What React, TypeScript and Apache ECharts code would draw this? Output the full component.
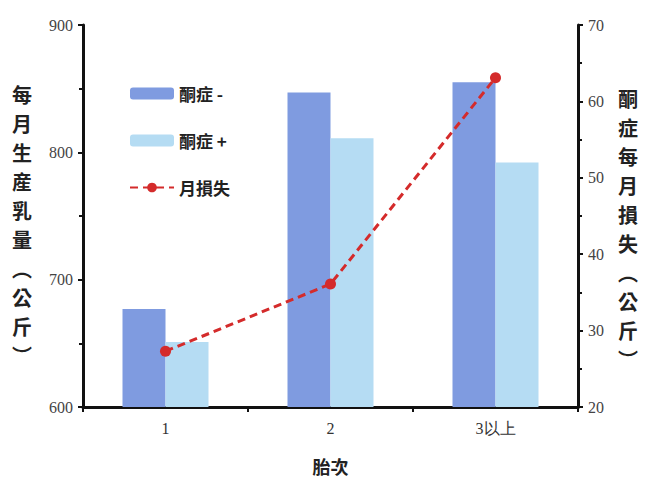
import React, { useEffect, useRef } from "react";
import * as echarts from "echarts";

const categories = ["1", "2", "3以上"];
const ketosisNeg = [677, 847, 855];
const ketosisPos = [651, 811, 792];
const monthlyLoss = [27.3, 36.1, 63.1];
const leftTitle = ["每", "月", "生", "産", "乳", "量", "︵", "公", "斤", "︶"];
const rightTitle = ["酮", "症", "每", "月", "損", "失", "︵", "公", "斤", "︶"];

const CJK = '"Noto Sans CJK TC", "Noto Sans CJK JP", sans-serif';
const SERIF = '"Liberation Serif", "DejaVu Serif", serif';

export default function App() {
  const ref = useRef<HTMLDivElement>(null);
  useEffect(() => {
    if (!ref.current) return;
    const chart = echarts.init(ref.current, null, { renderer: "svg" });
    const axisLine = { show: true, lineStyle: { color: "#111", width: 3 } };
    chart.setOption({
      animation: false,
      backgroundColor: "#fff",
      grid: { left: 83, right: 72, top: 25, bottom: 71 },
      legend: {
        orient: "vertical",
        left: 124,
        top: 80,
        itemWidth: 44,
        itemHeight: 12,
        itemGap: 30,
        textStyle: { fontFamily: CJK, fontSize: 17, fontWeight: "bold", color: "#222" },
        data: [
          { name: "酮症 -" },
          { name: "酮症 +" },
          { name: "月損失" },
        ],
      },
      xAxis: {
        type: "category",
        data: categories,
        axisLine,
        axisTick: { show: true, length: 5, lineStyle: { color: "#111", width: 2 } },
        axisLabel: { fontFamily: SERIF, fontSize: 16, color: "#333", margin: 13 },
        name: "胎次",
        nameLocation: "middle",
        nameGap: 50,
        nameTextStyle: { fontFamily: CJK, fontSize: 18, fontWeight: "bold", color: "#222" },
      },
      yAxis: [
        {
          type: "value",
          min: 600,
          max: 900,
          interval: 100,
          axisLine,
          axisTick: { show: true, length: 5, lineStyle: { color: "#111", width: 2 } },
          minorTick: { show: true, splitNumber: 2, length: 4, lineStyle: { color: "#111", width: 2 } },
          splitLine: { show: false },
          axisLabel: { fontFamily: SERIF, fontSize: 16, color: "#444", margin: 10 },
        },
        {
          type: "value",
          min: 20,
          max: 70,
          interval: 10,
          axisLine,
          axisTick: { show: true, length: 5, lineStyle: { color: "#111", width: 2 } },
          minorTick: { show: true, splitNumber: 2, length: 4, lineStyle: { color: "#111", width: 2 } },
          splitLine: { show: false },
          axisLabel: { fontFamily: SERIF, fontSize: 16, color: "#444", margin: 10 },
        },
      ],
      series: [
        {
          name: "酮症 -",
          type: "bar",
          data: ketosisNeg,
          barWidth: 43,
          barGap: "0%",
          itemStyle: { color: "#7f9be0" },
        },
        {
          name: "酮症 +",
          type: "bar",
          data: ketosisPos,
          barWidth: 43,
          itemStyle: { color: "#b5dcf3" },
        },
        {
          name: "月損失",
          type: "line",
          yAxisIndex: 1,
          data: monthlyLoss,
          symbol: "circle",
          symbolSize: 11,
          itemStyle: { color: "#d42b2b" },
          lineStyle: { color: "#d42b2b", width: 3, type: [8, 5] },
        },
      ],
      graphic: [
        {
          type: "text",
          left: 12,
          top: 80,
          style: {
            text: leftTitle.join("\n"),
            font: `bold 20px ${CJK}`,
            lineHeight: 29,
            fill: "#222",
            align: "center",
          },
        },
        {
          type: "text",
          left: 618,
          top: 84,
          style: {
            text: rightTitle.join("\n"),
            font: `bold 20px ${CJK}`,
            lineHeight: 29,
            fill: "#222",
            align: "center",
          },
        },
      ],
    });
    return () => chart.dispose();
  }, []);
  return (
    <div
      ref={ref}
      style={{ position: "fixed", left: 0, top: 0, width: 650, height: 480 }}
    />
  );
}
